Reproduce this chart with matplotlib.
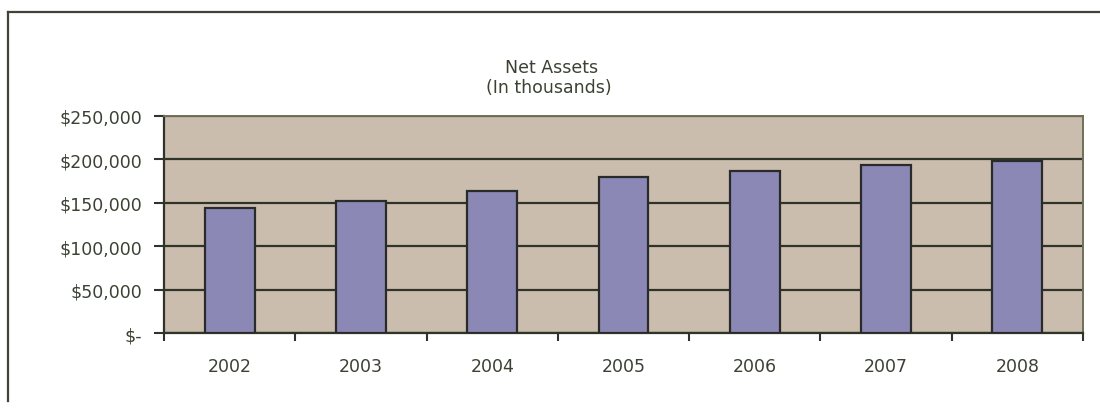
import matplotlib.pyplot as plt
from matplotlib.lines import Line2D
from matplotlib.ticker import FuncFormatter

# Net assets by year, in thousands of dollars
years = ['2002', '2003', '2004', '2005', '2006', '2007', '2008']
net_assets = [144000, 152000, 164000, 180000, 187000, 194000, 198000]
y_ticks = [0, 50000, 100000, 150000, 200000, 250000]

text_color = '#3b4233'
plt.rcParams['font.family'] = ['DejaVu Sans']


def money(v, pos):
    # Excel accounting style: zero shows as "$-"
    if v == 0:
        return '$-'
    return f'${v:,.0f}'


fig = plt.figure(figsize=(11, 4.14), dpi=100)
ax = fig.add_axes([164 / 1100, 1 - 334 / 414, 919 / 1100, 217 / 414])

ax.set_facecolor('#cabdae')
ax.set_axisbelow(True)
ax.grid(axis='y', color='#2f3328', linewidth=1.6)

x = range(len(years))
ax.bar(x, net_assets, width=0.38, color='#8b88b5',
       edgecolor='#2a2a2a', linewidth=1.6, zorder=3)

ax.set_xlim(-0.5, len(years) - 0.5)
ax.set_ylim(0, 250000)
ax.set_yticks(y_ticks)
ax.yaxis.set_major_formatter(FuncFormatter(money))

# year labels centred under bars, ticks between categories
ax.set_xticks(list(x))
ax.set_xticklabels(years)
ax.set_xticks([i + 0.5 for i in range(-1, len(years))], minor=True)
ax.tick_params(axis='x', which='major', length=0, pad=17,
               labelsize=12.5, labelcolor=text_color)
ax.tick_params(axis='x', which='minor', length=6, width=1.5,
               color='#2f3328', direction='out')
ax.tick_params(axis='y', length=7, width=1.5, color='#2f3328',
               labelsize=12.5, labelcolor=text_color, pad=9)

for side in ['left', 'bottom']:
    ax.spines[side].set_color('#2f3328')
    ax.spines[side].set_linewidth(1.6)
for side in ['top', 'right']:
    ax.spines[side].set_color('#6f6e58')
    ax.spines[side].set_linewidth(1.4)

fig.text(552 / 1100, 1 - 68 / 414, 'Net Assets', ha='center', va='center',
         fontsize=12.5, color=text_color)
fig.text(549 / 1100, 1 - 88 / 414, '(In thousands)', ha='center',
         va='center', fontsize=12.5, color=text_color)

# frame lines around the chart area (top and left)
fig.add_artist(Line2D([8 / 1100, 1.0], [1 - 13 / 414, 1 - 13 / 414],
                      color='#3e4536', linewidth=1.6))
fig.add_artist(Line2D([8 / 1100, 8 / 1100], [1 - 13 / 414, 1 - 402 / 414],
                      color='#3e4536', linewidth=1.6))

fig.savefig('out.png', dpi=100, facecolor='white')
